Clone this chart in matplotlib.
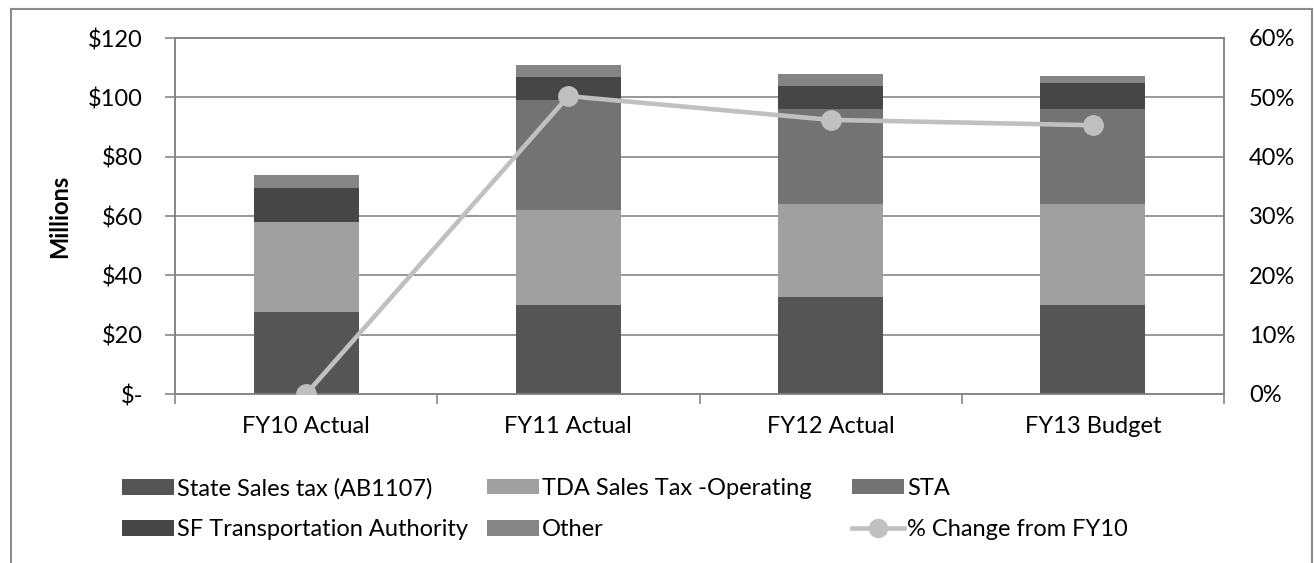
import numpy as np
import matplotlib
matplotlib.use('Agg')
import matplotlib.pyplot as plt
from matplotlib.lines import Line2D
from matplotlib.patches import Patch
from matplotlib.ticker import FuncFormatter, FixedLocator

plt.rcParams['font.family'] = ['Lato', 'DejaVu Sans']

# Revenue by source, $ millions
categories = ['FY10 Actual', 'FY11 Actual', 'FY12 Actual', 'FY13 Budget']
state_sales = [27.6, 29.9, 32.8, 30.0]
tda_sales = [30.3, 32.1, 31.2, 34.0]
sta = [0.0, 37.2, 32.1, 32.1]
sfta = [11.6, 7.6, 7.7, 8.7]
other = [4.2, 4.0, 3.9, 2.4]
# % change from FY10
pct_change = [0.0, 0.502, 0.462, 0.453]

series = [
    ('State Sales tax (AB1107)', state_sales, '#555555'),
    ('TDA Sales Tax -Operating', tda_sales, '#a0a0a0'),
    ('STA', sta, '#737373'),
    ('SF Transportation Authority', sfta, '#464646'),
    ('Other', other, '#858585'),
]

W, H = 1314, 563
fig = plt.figure(figsize=(W/100, H/100), dpi=100)
ax = fig.add_axes([175/W, 1-394/H, (1224-175)/W, 356/H])

fs = 17
grid_col = '#868686'
x = np.arange(len(categories))
bottom = np.zeros(len(categories))
handles = {}
for name, vals, col in series:
    vals = np.array(vals)
    ax.bar(x, vals, width=0.4, bottom=bottom, color=col, zorder=3)
    handles[name] = Patch(facecolor=col)
    bottom += vals

ax.set_xlim(-0.5, 3.5)
ax.set_ylim(0, 120)
ax.yaxis.set_major_locator(FixedLocator(np.arange(0, 121, 20)))
ax.yaxis.set_major_formatter(FuncFormatter(lambda v, p: '$-' if v == 0 else '$%d' % v))
ax.grid(axis='y', color=grid_col, lw=1.2, zorder=0)
ax.set_xticks(x)
ax.set_xticklabels(categories)
ax.set_xticks(np.arange(-0.5, 3.6, 1), minor=True)
ax.tick_params(axis='x', which='major', length=0, pad=16, labelsize=fs)
ax.tick_params(axis='x', which='minor', length=7, color=grid_col, width=1.2)
ax.tick_params(axis='y', length=7, color=grid_col, width=1.2, pad=16, labelsize=fs)
for s in ax.spines.values():
    s.set_color(grid_col)
    s.set_linewidth(1.2)
ax.set_ylabel('Millions', fontsize=fs, fontweight='bold', labelpad=12)

ax2 = ax.twinx()
ax2.plot(x, pct_change, color='#c0c0c0', lw=3.3, marker='o', ms=14, zorder=5)
ax2.set_ylim(0, 0.6)
ax2.yaxis.set_major_locator(FixedLocator(np.arange(0, 0.61, 0.1)))
ax2.yaxis.set_major_formatter(FuncFormatter(lambda v, p: '%d%%' % round(v*100)))
ax2.tick_params(axis='y', length=0, pad=18, labelsize=fs)
for s in ax2.spines.values():
    s.set_color(grid_col)
    s.set_linewidth(1.2)

line_handle = Line2D([], [], color='#c0c0c0', lw=3.3, marker='o', ms=13)
cols = [
    (122, ['State Sales tax (AB1107)', 'SF Transportation Authority']),
    (487, ['TDA Sales Tax -Operating', 'Other']),
    (852, ['STA', '% Change from FY10']),
]
for xpos, names in cols:
    hs = [handles.get(n, line_handle) for n in names]
    fig.legend(hs, names, loc='center left', bbox_to_anchor=(xpos/W, 1-509/H),
               frameon=False, fontsize=fs, handlelength=2.2, handleheight=0.64,
               handletextpad=0.12, labelspacing=0.85, borderpad=0, borderaxespad=0)

# outer chart border (no bottom edge visible)
bc = '#8c8c8c'
fig.add_artist(Line2D([11/W, 11/W], [0, 1-9/H], color=bc, lw=1.5))
fig.add_artist(Line2D([11/W, 1312/W], [1-9/H, 1-9/H], color=bc, lw=1.5))
fig.add_artist(Line2D([1312/W, 1312/W], [0, 1-9/H], color=bc, lw=1.5))

fig.savefig('out.png', dpi=100)
